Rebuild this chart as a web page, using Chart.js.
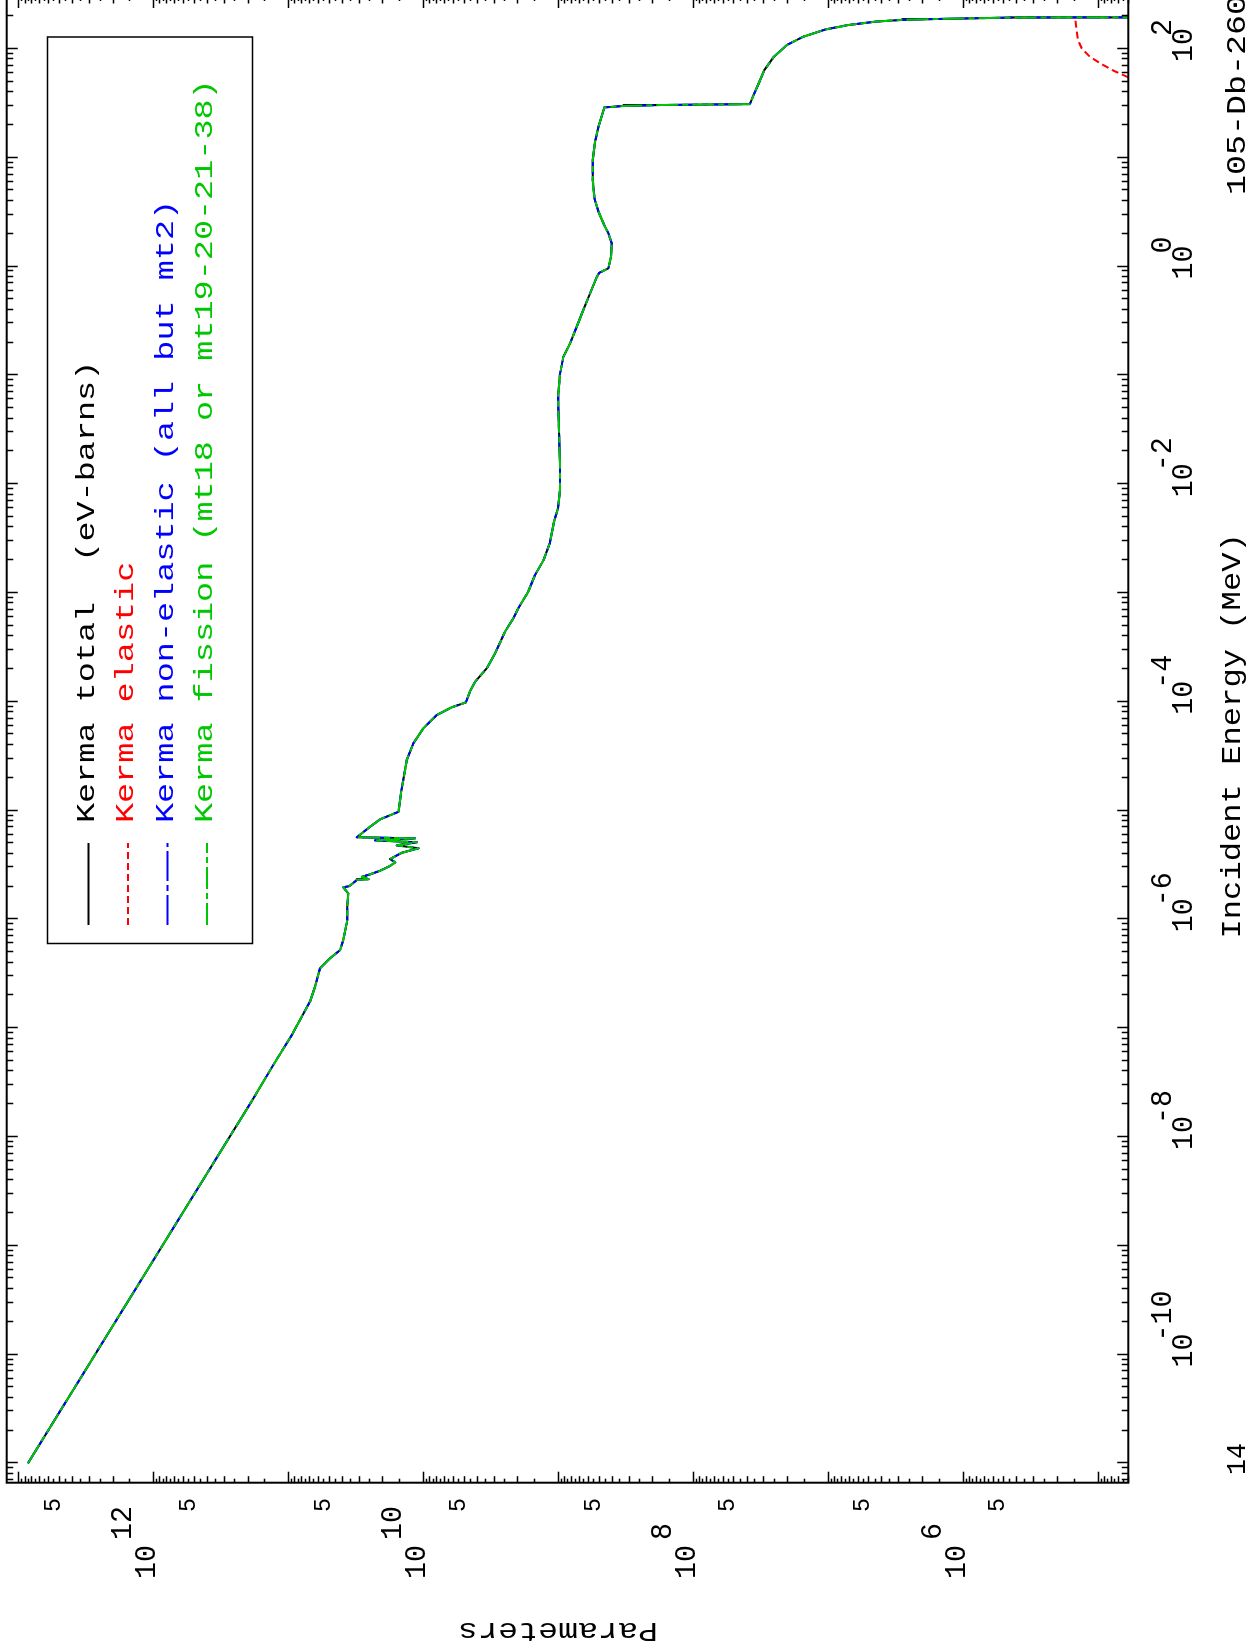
<!DOCTYPE html>
<html>
<head>
<meta charset="utf-8">
<title>105-Db-260 Kerma</title>
<script src="https://cdn.jsdelivr.net/npm/chart.js@4/dist/chart.umd.min.js"></script>
<style>
    html, body { margin: 0; padding: 0; background: #ffffff; overflow: hidden; width: 1250px; height: 1651px; }
    /* the plot is printed in landscape and the page is turned a quarter to the left */
    #wrap { position: absolute; left: 0; top: 0; width: 1660px; height: 1250px;
            transform-origin: 0 0; transform: translateY(1651px) rotate(-90deg); }
</style>
</head>
<body>
<div id="wrap"><canvas id="kerma" width="1660" height="1250"></canvas></div>
<script>
// Incident energy (MeV)
const energyMeV = [
    1.00e-11, 2.26e-8, 4.58e-8, 8.65e-8, 1.75e-7, 2.40e-7, 3.55e-7, 4.39e-7, 5.22e-7, 6.46e-7,
    9.86e-7, 1.31e-6, 1.73e-6, 1.97e-6, 2.02e-6, 2.30e-6, 2.34e-6, 2.46e-6, 2.59e-6, 2.80e-6,
    3.09e-6, 3.34e-6, 3.58e-6, 4.09e-6, 4.50e-6, 4.79e-6, 5.11e-6, 5.32e-6, 5.55e-6, 5.68e-6,
    7.10e-6, 8.30e-6, 9.75e-6, 1.44e-5, 1.91e-5, 2.91e-5, 4.15e-5, 5.70e-5, 7.55e-5, 8.89e-5,
    9.86e-5, 1.24e-4, 1.53e-4, 2.03e-4, 2.79e-4, 4.40e-4, 5.85e-4, 7.21e-4, 1.03e-3, 1.46e-3,
    2.00e-3, 2.86e-3, 4.51e-3, 6.00e-3, 8.83e-3, 1.55e-2, 2.54e-2, 4.48e-2, 6.35e-2, 0.104,
    0.148, 0.197, 0.280, 0.398, 0.568, 0.805, 0.877, 0.962, 1.23, 1.63,
    2.02, 2.49, 3.19, 4.24, 6.24, 9.53, 14.0, 19.3, 29.0, 29.9,
    30.5, 31.1, 36.4, 48.3, 64.0, 84.7, 109, 129, 151, 166,
    178, 185, 188, 194, 195, 195
];

// Kerma total (eV-barns)
const kermaTotal = [
    8.51e12, 1.81e11, 1.29e11, 9.40e10, 6.89e10, 6.32e10, 5.81e10, 4.89e10, 4.12e10, 3.90e10,
    3.64e10, 3.64e10, 3.58e10, 3.90e10, 3.52e10, 3.10e10, 2.54e10, 2.84e10, 2.47e10, 2.08e10,
    1.76e10, 1.61e10, 1.76e10, 1.44e10, 1.08e10, 1.57e10, 1.11e10, 2.27e10, 1.15e10, 3.10e10,
    2.47e10, 2.08e10, 1.52e10, 1.46e10, 1.40e10, 1.32e10, 1.18e10, 9.95e9, 7.91e9, 6.12e9,
    4.82e9, 4.49e9, 4.11e9, 3.37e9, 2.92e9, 2.47e9, 2.14e9, 1.97e9, 1.66e9, 1.48e9,
    1.28e9, 1.15e9, 1.07e9, 1.00e9, 9.64e8, 9.64e8, 9.77e8, 9.93e8, 1.00e9, 9.64e8,
    9.12e8, 8.13e8, 7.26e8, 6.49e8, 5.78e8, 5.15e8, 4.93e8, 4.23e8, 4.04e8, 3.99e8,
    4.23e8, 4.60e8, 5.01e8, 5.37e8, 5.52e8, 5.52e8, 5.31e8, 5.01e8, 4.53e8, 3.27e8,
    1.75e8, 3.78e7, 3.59e7, 3.25e7, 2.95e7, 2.51e7, 2.00e7, 1.53e7, 1.04e7, 7.02e6,
    4.44e6, 2.81e6, 1.67e6, 4.52e5, 1.49e5, 1.00e4
];

// non-elastic and fission kerma lie on top of the total over the whole plot
const kermaNonElastic = kermaTotal;
const kermaFission = kermaTotal;

// Kerma elastic, only its high-energy tail comes into the frame
const elasticEnergyMeV = [54.8, 63.1, 73.8, 84.7, 101, 121, 195];
const kermaElastic = [5.92e4, 7.62e4, 9.57e4, 1.14e5, 1.31e5, 1.40e5, 1.47e5];

// Axis labels
const energyLabelExps = [-10, -8, -6, -4, -2, 0, 2];
const kermaLabelExps = [12, 10, 8, 6];
const kermaFiveExps = [5, 6, 7, 8, 9, 10, 11, 12];

const legendLabels = [
    'Kerma total  (eV-barns)',
    'Kerma elastic',
    'Kerma non-elastic (all but mt2)',
    'Kerma fission (mt18 or mt19-20-21-38)'
];

const RED = '#ff0000';
const BLUE = '#0000ff';
const GREEN = '#00c800';
const FONT = '"Liberation Mono", "DejaVu Sans Mono", monospace';

const DASH_ELASTIC = [7, 4];
const DASH_NONEL = [30, 4, 6, 4];
const DASH_FISSION = [22, 4, 6, 4];

function toPoints(xs, ys) {
    return xs.map((x, i) => ({ x: x, y: ys[i] }));
}

/**
 * Draw a string cell by cell with a fixed pitch, like the plotter font
 */
function plotText(ctx, str, x, y, size, pitch, color, align) {
    ctx.save();
    ctx.fillStyle = color;
    ctx.font = size + 'px ' + FONT;
    ctx.textAlign = 'center';
    ctx.textBaseline = 'alphabetic';
    const w = str.length * pitch;
    let x0 = x;
    if (align === 'center') x0 = x - w / 2;
    if (align === 'right') x0 = x - w;
    const sx = pitch / (0.6 * size);
    for (let i = 0; i < str.length; i++) {
        ctx.save();
        ctx.translate(x0 + (i + 0.5) * pitch, y);
        ctx.scale(sx, 1);
        ctx.fillText(str[i], 0, 0);
        ctx.restore();
    }
    ctx.restore();
    return x0 + w;
}

// frame, inward ticks, labels and legend
const plotFrame = {
    id: 'plotFrame',
    afterDatasetsDraw(chart) {
        const ctx = chart.ctx;
        const a = chart.chartArea;
        const xs = chart.scales.x;
        const ys = chart.scales.y;

        ctx.save();
        ctx.strokeStyle = '#000000';
        ctx.lineWidth = 2;
        ctx.strokeRect(a.left, a.top, a.right - a.left, a.bottom - a.top);

        ctx.lineWidth = 1.5;
        ctx.beginPath();
        // energy ticks on top and bottom edges
        for (let e = -12; e <= 2; e++) {
            for (let k = 1; k <= 9; k++) {
                const v = k * Math.pow(10, e);
                if (v < xs.min || v > xs.max) continue;
                const px = Math.round(xs.getPixelForValue(v)) + 0.5;
                const len = k === 1 ? 11 : 6.5;
                ctx.moveTo(px, a.top); ctx.lineTo(px, a.top + len);
                ctx.moveTo(px, a.bottom); ctx.lineTo(px, a.bottom - len);
            }
        }
        // kerma ticks on left and right edges
        for (let e = 4; e <= 13; e++) {
            for (let k = 1; k < 10; k += 0.5) {
                const v = k * Math.pow(10, e);
                if (v < ys.min || v > ys.max) continue;
                const py = Math.round(ys.getPixelForValue(v)) + 0.5;
                const len = k === 1 ? 11 : (k % 1 === 0 ? 6.5 : 4);
                ctx.moveTo(a.left, py); ctx.lineTo(a.left + len, py);
                ctx.moveTo(a.right, py); ctx.lineTo(a.right - len, py);
            }
        }
        ctx.stroke();
        ctx.restore();

        // energy tick labels
        energyLabelExps.forEach(p => {
            const px = xs.getPixelForValue(Math.pow(10, p));
            const end = plotText(ctx, '10', px + 4, 1192, 30, 17, '#000', 'center');
            plotText(ctx, String(p), end - 8, 1171, 30, 17, '#000', 'left');
        });

        // kerma tick labels
        kermaLabelExps.forEach(p => {
            const py = ys.getPixelForValue(Math.pow(10, p));
            plotText(ctx, '10', 106, py + 2, 30, 17, '#000', 'right');
            plotText(ctx, String(p), 111, py - 22, 30, 17, '#000', 'left');
        });
        kermaFiveExps.forEach(p => {
            const py = ys.getPixelForValue(5 * Math.pow(10, p));
            plotText(ctx, '5', 153, py + 1, 24, 14, '#000', 'right');
        });

        // axis titles and plot tags
        plotText(ctx, 'Incident Energy (MeV)', (a.left + a.right) / 2 + 4, 1240, 27, 19.3, '#000', 'center');
        plotText(ctx, '105-Db-260', 1456, 1245, 27, 20, '#000', 'left');
        plotText(ctx, '14', 176, 1245, 27, 16, '#000', 'left');

        ctx.save();
        ctx.translate(28, 558);
        ctx.rotate(-Math.PI / 2);
        plotText(ctx, 'Parameters', 0, 0, 27, 20, '#000', 'center');
        ctx.restore();

        // legend box
        ctx.save();
        ctx.strokeStyle = '#000';
        ctx.lineWidth = 1.5;
        ctx.strokeRect(707.5, 47.5, 906.5, 205);
        const rows = [93.5, 133, 172.5, 212];
        const colors = ['#000000', RED, BLUE, GREEN];
        const dashes = [[], DASH_ELASTIC, DASH_NONEL, DASH_FISSION];
        rows.forEach((by, i) => {
            ctx.save();
            ctx.strokeStyle = colors[i];
            ctx.lineWidth = 2;
            ctx.setLineDash(dashes[i]);
            ctx.beginPath();
            ctx.moveTo(726, by - 5);
            ctx.lineTo(808, by - 5);
            ctx.stroke();
            ctx.restore();
            plotText(ctx, legendLabels[i], 828, by, 25, 20.1, colors[i], 'left');
        });
        ctx.restore();
    }
};

const ctx = document.getElementById('kerma').getContext('2d');

new Chart(ctx, {
    type: 'line',
    data: {
        datasets: [
            {
                label: legendLabels[0],
                data: toPoints(energyMeV, kermaTotal),
                borderColor: '#000000',
                borderWidth: 2,
                order: 3
            },
            {
                label: legendLabels[1],
                data: toPoints(elasticEnergyMeV, kermaElastic),
                borderColor: RED,
                borderWidth: 2,
                borderDash: DASH_ELASTIC,
                order: 2
            },
            {
                label: legendLabels[2],
                data: toPoints(energyMeV, kermaNonElastic),
                borderColor: BLUE,
                borderWidth: 2,
                borderDash: DASH_NONEL,
                order: 1
            },
            {
                label: legendLabels[3],
                data: toPoints(energyMeV, kermaFission),
                borderColor: GREEN,
                borderWidth: 2,
                borderDash: DASH_FISSION,
                order: 0
            }
        ]
    },
    options: {
        responsive: false,
        animation: false,
        devicePixelRatio: 1,
        parsing: false,
        elements: {
            point: { radius: 0, hoverRadius: 0 },
            line: { tension: 0, fill: false, borderJoinStyle: 'round' }
        },
        layout: {
            padding: { left: 168.3, right: 6, top: 6.7, bottom: 121.7 }
        },
        scales: {
            x: { type: 'logarithmic', display: false, bounds: 'data', min: 6.64e-12, max: 300 },
            y: { type: 'logarithmic', display: false, bounds: 'data', min: 5.92e4, max: 1.22e13 }
        },
        plugins: {
            legend: { display: false },
            tooltip: { enabled: false }
        }
    },
    plugins: [plotFrame]
});
</script>
</body>
</html>
